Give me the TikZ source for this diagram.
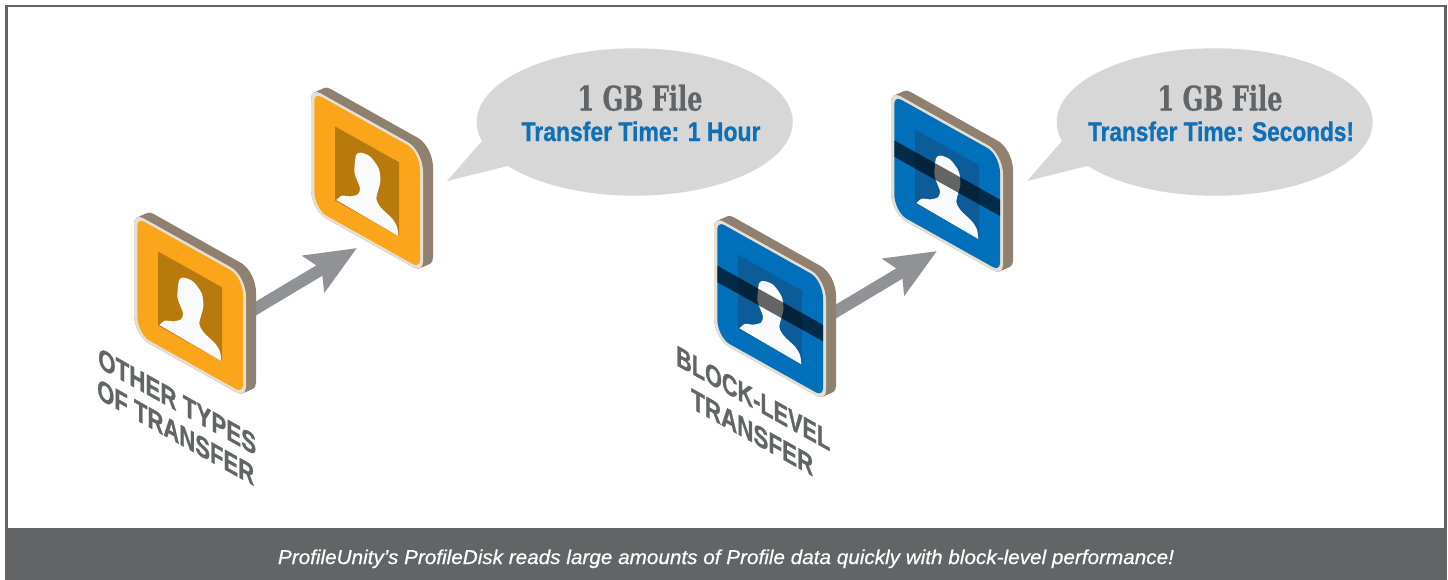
\documentclass[tikz,border=0pt]{standalone}
\usepackage{fontspec}
\usepackage{graphicx}
\setmainfont{Liberation Sans}
\newfontfamily\heavyfont{Liberation Sans}[BoldFeatures={FakeBold=1}]
\newfontfamily\capfont{Liberation Sans}[ItalicFeatures={FakeBold=0.5}]
\newfontfamily\slabfont{DejaVu Serif}[BoldFeatures={FakeBold=0.6}]
\usetikzlibrary{arrows.meta}
\definecolor{framegray}{HTML}{636466}
\definecolor{brownside}{HTML}{8F8070}
\definecolor{creamrim}{HTML}{E6E0D4}
\definecolor{orangeface}{HTML}{FBA61A}
\definecolor{orangehole}{HTML}{B8790D}
\definecolor{blueface}{HTML}{0070BB}
\definecolor{bluehole}{HTML}{0B5C99}
\definecolor{personwhite}{HTML}{F8FAFC}
\definecolor{bubblegray}{HTML}{D7D7D7}
\definecolor{arrowgray}{HTML}{909295}
\definecolor{titleblue}{HTML}{0F70B7}
\tikzset{
  x=1pt,y=-1pt,
  flowarrow/.style={draw=arrowgray,line width=12pt,-{Stealth[length=50pt,width=41.5pt,inset=9pt]}},
  bubblefill/.style={fill=bubblegray},
  headline/.style={text=framegray,inner sep=0pt,anchor=base,font=\slabfont\bfseries\fontsize{34}{34}\selectfont},
  subline/.style={text=titleblue,inner sep=0pt,anchor=base,font=\heavyfont\bfseries\fontsize{27}{27}\selectfont},
  sidelabel/.style={text=framegray,inner sep=0pt,anchor=base west,transform shape,font=\heavyfont\bfseries\fontsize{29}{29}\selectfont},
  captiontext/.style={text=white,inner sep=0pt,anchor=base,font=\capfont\itshape\fontsize{20}{20}\selectfont},
}
% rounded rectangle in the icon's skewed plane: u0 v0 u1 v1, then radii of the tight corners (ru rv) and of the wide corners (Ru Rv)
\newcommand\rrpath[8]{(#1+#5,#2) -- (#3-#7,#2) .. controls (#3-.45*#7,#2) and (#3,#2+.45*#8) .. (#3,#2+#8)
  -- (#3,#4-#6) .. controls (#3,#4-.45*#6) and (#3-.45*#5,#4) .. (#3-#5,#4)
  -- (#1+#7,#4) .. controls (#1+.45*#7,#4) and (#1,#4-.45*#8) .. (#1,#4-#8)
  -- (#1,#2+#6) .. controls (#1,#2+.45*#6) and (#1+.45*#5,#2) .. (#1+#5,#2) -- cycle}
\newcommand\iconbase[4]{% x, y, face, hole
  \begin{scope}[cm={1,-0.56,0,1,(#1,#2)}]
    \foreach \s in {0,1,...,10}{\fill[brownside] \rrpath{\s}{-\s}{112+\s}{122-\s}{9}{11}{15}{21};}
    \fill[creamrim] \rrpath{0}{0}{112}{122}{9}{11}{15}{21};
    \fill[#3] \rrpath{3.3}{3}{109}{119}{7}{8}{12.5}{18};
    \fill[#4] (24,25) rectangle (88,99);
  \end{scope}
  \begin{scope}[shift={(#1,#2)},scale=1/3,shift={(-162,-39)}]
    \fill[personwhite] plot[smooth,tension=.45] coordinates {(238,375) (255,362) (280,364) (303,358) (309,340) (300,315) (292,290) (297,240) (312,233) (340,245) (365,280) (370,320) (358,370) (372,398) (405,430) (420,455) (424,483)} -- cycle;
  \end{scope}
}
\newcommand\iconband[2]{%
  \begin{scope}[cm={1,-0.56,0,1,(#1,#2)}]
    \fill[black,opacity=.6] (3.3,47.5) rectangle (109,64);
  \end{scope}
}
\newcommand\bubble[1]{%
  \begin{scope}[shift={(#1,0)}]
    \fill[bubblefill] (634.7,122) ellipse [x radius=158,y radius=73.7];
    \fill[bubblefill] (482,141) -- (447,181) -- (507.3,166) -- (540,140) -- cycle;
  \end{scope}
}
\newcommand\skewlabel[5]{% name x y width text
  \begin{scope}[cm={1,-0.56,0,1,(#2,#3)}]
    \node[sidelabel] (#1) at (0,0) {\resizebox{#4pt}{\height}{#5}};
  \end{scope}
}
\begin{document}
\begin{tikzpicture}
\useasboundingbox (0,0) rectangle (1448,579);
\fill[white] (0,0) rectangle (1448,579);
\draw[framegray,line width=2.6pt] (6.2,6) rectangle (1445.7,579);
\fill[framegray] (5,528) rectangle (1447,579);
\node[captiontext] (caption) at (726,564) {\resizebox{896pt}{\height}{ProfileUnity’s ProfileDisk reads large amounts of Profile data quickly with block-level performance!}};

% bubbles
\bubble{0}
\bubble{580}
\node[headline] (gbA) at (640,110.5) {\resizebox{125pt}{\height}{1 GB File}};
\node[subline] (timeA) at (641,141) {\resizebox{239pt}{\height}{Transfer Time: 1 Hour}};
\node[headline] (gbB) at (1220,110.5) {\resizebox{125pt}{\height}{1 GB File}};
\node[subline] (timeB) at (1221,141) {\resizebox{266pt}{\height}{Transfer Time: Seconds!}};

% arrows
\coordinate (startA) at (250,312);
\coordinate (tipA) at (357,248);
\coordinate (startB) at (830,315);
\coordinate (tipB) at (937,251);
\draw[flowarrow] (startA) -- (tipA);
\draw[flowarrow] (startB) -- (tipB);

% icons
\iconbase{134}{213}{orangeface}{orangehole}
\iconbase{311}{88}{orangeface}{orangehole}
\iconbase{714}{216.3}{blueface}{bluehole}
\iconband{714}{216.3}
\iconbase{891}{91}{blueface}{bluehole}
\iconband{891}{91}

% labels
\skewlabel{otherA}{98}{367}{158}{OTHER TYPES}
\skewlabel{otherB}{97}{398}{157}{OF TRANSFER}
\skewlabel{blockA}{676}{365}{154}{BLOCK-LEVEL}
\skewlabel{blockB}{691}{408}{122}{TRANSFER}
\end{tikzpicture}
\end{document}
